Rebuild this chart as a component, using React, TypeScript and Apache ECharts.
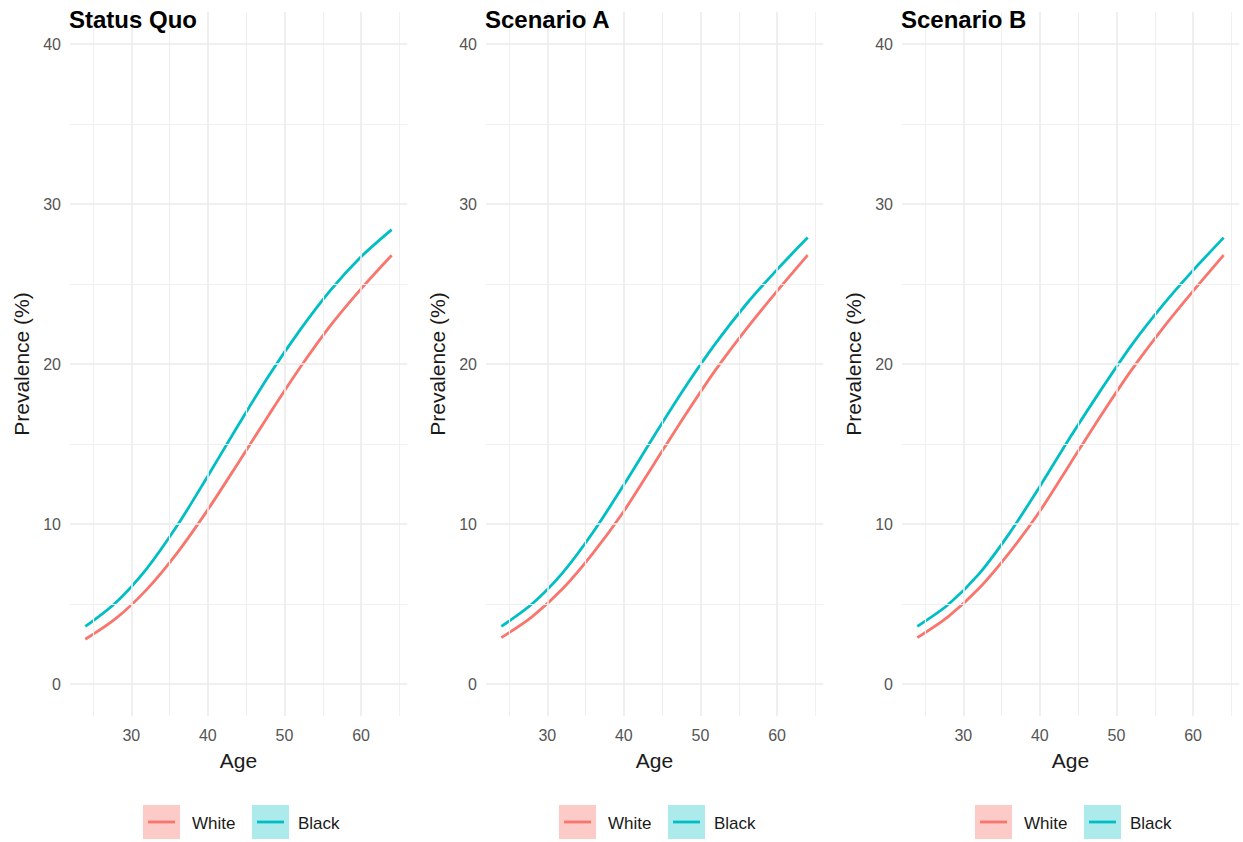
import React, { useEffect, useRef } from "react";
import * as echarts from "echarts";

const panelTitles = ["Status Quo", "Scenario A", "Scenario B"];
const ages = [24, 28, 32, 36, 40, 44, 48, 52, 56, 60, 64];

const sqWhite = [2.8, 4.1, 5.9, 8.2, 10.9, 13.85, 16.85, 19.75, 22.4, 24.7, 26.8];
const sqBlack = [3.6, 5.1, 7.2, 9.9, 13.0, 16.2, 19.3, 22.1, 24.6, 26.7, 28.4];
const aWhite = [2.9, 4.2, 5.95, 8.2, 10.8, 13.8, 16.8, 19.65, 22.2, 24.55, 26.8];
const aBlack = [3.6, 5.0, 6.95, 9.5, 12.45, 15.55, 18.55, 21.3, 23.75, 25.9, 27.9];
const bWhite = [2.9, 4.2, 5.95, 8.2, 10.8, 13.8, 16.8, 19.65, 22.2, 24.55, 26.8];
const bBlack = [3.6, 4.95, 6.85, 9.4, 12.35, 15.45, 18.4, 21.2, 23.65, 25.85, 27.9];

const whiteSeries = [sqWhite, aWhite, bWhite];
const blackSeries = [sqBlack, aBlack, bBlack];

const groupNames = ["White", "Black"];
const xTicks = [30, 40, 50, 60];
const xMinor = [25, 35, 45, 55, 65];
const yTicks = [0, 10, 20, 30, 40];
const yMinor = [5, 15, 25, 35];

const RED = "#F8766D";
const TEAL = "#00BFC4";
const FONT = "Liberation Sans, Arial, Helvetica, sans-serif";

export default function App() {
  const ref = useRef<HTMLDivElement>(null);

  useEffect(() => {
    if (!ref.current) return;
    const chart = echarts.init(ref.current, undefined, { renderer: "svg" });

    const gridLefts = [70, 486, 902];
    const gridW = 337;
    const gridTop = 12;
    const gridH = 704;

    const grids = gridLefts.map((l) => ({
      left: l,
      top: gridTop,
      width: gridW,
      height: gridH,
      containLabel: false,
    }));

    const xAxes = gridLefts.map((_, i) => ({
      type: "value",
      gridIndex: i,
      min: 22,
      max: 66,
      name: "Age",
      nameLocation: "middle",
      nameGap: 34,
      nameTextStyle: { fontSize: 21, color: "#1a1a1a", fontFamily: FONT },
      axisLine: { show: false },
      axisTick: { show: false, customValues: xTicks },
      splitLine: { show: false },
      axisLabel: {
        customValues: xTicks,
        fontSize: 16,
        color: "#555555",
        fontFamily: FONT,
        margin: 11,
      },
    }));

    const yAxes = gridLefts.map((_, i) => ({
      type: "value",
      gridIndex: i,
      min: -2,
      max: 42,
      name: "Prevalence (%)",
      nameLocation: "middle",
      nameGap: 38,
      nameTextStyle: { fontSize: 21, color: "#1a1a1a", fontFamily: FONT },
      axisLine: { show: false },
      axisTick: { show: false, customValues: yTicks },
      splitLine: { show: false },
      axisLabel: {
        customValues: yTicks,
        fontSize: 16,
        color: "#555555",
        fontFamily: FONT,
        margin: 9,
      },
    }));

    const gridMarkData = [
      ...xTicks.map((v) => ({ xAxis: v, lineStyle: { width: 1.6, color: "#ebebeb", type: "solid" } })),
      ...xMinor.map((v) => ({ xAxis: v, lineStyle: { width: 1.1, color: "#f0f0f0", type: "solid" } })),
      ...yTicks.map((v) => ({ yAxis: v, lineStyle: { width: 1.6, color: "#ebebeb", type: "solid" } })),
      ...yMinor.map((v) => ({ yAxis: v, lineStyle: { width: 1.1, color: "#f0f0f0", type: "solid" } })),
    ];

    const series: any[] = [];
    gridLefts.forEach((_, i) => {
      series.push({
        type: "line",
        xAxisIndex: i,
        yAxisIndex: i,
        data: [],
        z: 0,
        silent: true,
        markLine: {
          silent: true,
          symbol: ["none", "none"],
          label: { show: false },
          animation: false,
          data: gridMarkData,
        },
      });
      series.push({
        type: "line",
        name: groupNames[0],
        xAxisIndex: i,
        yAxisIndex: i,
        data: ages.map((a, k) => [a, whiteSeries[i][k]]),
        smooth: 0.3,
        showSymbol: false,
        z: 3,
        lineStyle: { color: RED, width: 2.8 },
        itemStyle: { color: RED },
      });
      series.push({
        type: "line",
        name: groupNames[1],
        xAxisIndex: i,
        yAxisIndex: i,
        data: ages.map((a, k) => [a, blackSeries[i][k]]),
        smooth: 0.3,
        showSymbol: false,
        z: 3,
        lineStyle: { color: TEAL, width: 2.8 },
        itemStyle: { color: TEAL },
      });
    });

    const titles = gridLefts.map((l, i) => ({
      text: panelTitles[i],
      left: l - 1,
      top: 7,
      padding: 0,
      textStyle: { fontSize: 24, fontWeight: "bold", color: "#000", fontFamily: FONT },
    }));

    const graphics: any[] = [];
    gridLefts.forEach((l) => {
      const items = [
        { dx: 73, color: RED, fill: "rgba(248,118,109,0.38)", label: groupNames[0], tx: 122 },
        { dx: 182, color: TEAL, fill: "rgba(0,191,196,0.32)", label: groupNames[1], tx: 228 },
      ];
      items.forEach((it) => {
        graphics.push({
          type: "rect",
          shape: { x: l + it.dx, y: 805, width: 37, height: 34 },
          style: { fill: it.fill },
          silent: true,
        });
        graphics.push({
          type: "line",
          shape: { x1: l + it.dx + 5, y1: 822, x2: l + it.dx + 32, y2: 822 },
          style: { stroke: it.color, lineWidth: 2.8 },
          silent: true,
        });
        graphics.push({
          type: "text",
          x: l + it.tx,
          y: 823,
          style: {
            text: it.label,
            fontSize: 17,
            fill: "#1a1a1a",
            fontFamily: FONT,
            verticalAlign: "middle",
            textAlign: "left",
          },
          silent: true,
        });
      });
    });

    chart.setOption({
      animation: false,
      backgroundColor: "#ffffff",
      textStyle: { fontFamily: FONT },
      title: titles,
      grid: grids,
      xAxis: xAxes,
      yAxis: yAxes,
      series,
      graphic: graphics,
    });

    return () => {
      chart.dispose();
    };
  }, []);

  return (
    <div
      ref={ref}
      style={{ position: "absolute", left: 0, top: 0, width: 1243, height: 842 }}
    />
  );
}
